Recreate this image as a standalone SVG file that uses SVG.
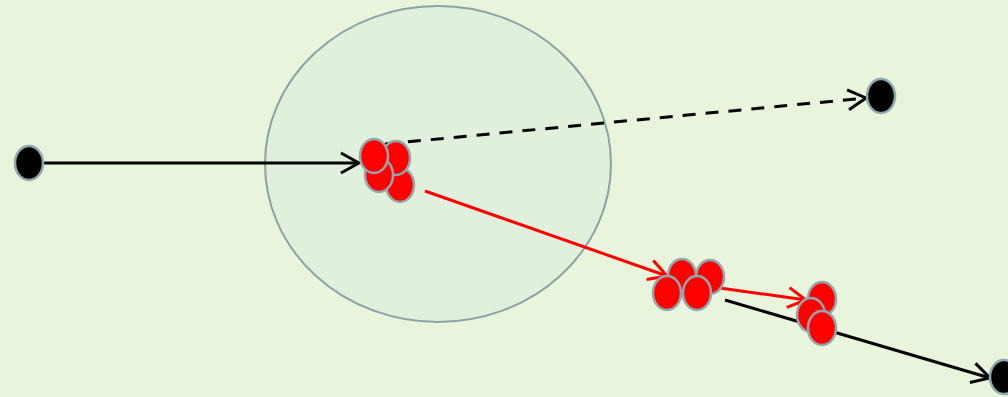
<svg xmlns="http://www.w3.org/2000/svg" width="1008" height="397" viewBox="0 0 1008 397">
<style>
.bg{fill:#E8F4DB}
.zone{fill:#E1F0DD;stroke:#8CA3A5;stroke-width:2}
.blk{fill:#000;stroke:#8FA8AC;stroke-width:2.5}
.red{fill:#FF0000;stroke:#8FA8AC;stroke-width:2.5}
.cb{stroke:#000;stroke-width:3;fill:none}
.cr{stroke:#FF0000;stroke-width:3;fill:none}
</style>
<defs>
<marker id="ab" viewBox="0 0 22 24" refX="20" refY="12" markerWidth="22" markerHeight="24" markerUnits="userSpaceOnUse" orient="auto">
<path d="M2,2 L20,12 L2,22" fill="none" stroke="#000" stroke-width="3"/>
</marker>
<marker id="ar" viewBox="0 0 22 24" refX="20" refY="12" markerWidth="22" markerHeight="24" markerUnits="userSpaceOnUse" orient="auto">
<path d="M2,2 L20,12 L2,22" fill="none" stroke="#FF0000" stroke-width="3"/>
</marker>
</defs>
<rect class="bg" x="0" y="0" width="1008" height="397"/>
<ellipse id="zone" class="zone" cx="438" cy="164" rx="173" ry="158"/>
<g id="connectors">
<line class="cb" x1="44" y1="163" x2="359" y2="163" marker-end="url(#ab)"/>
<line class="cb" x1="385" y1="144" x2="866" y2="98" stroke-dasharray="13,10" marker-end="url(#ab)"/>
<line class="cr" x1="425" y1="191" x2="667" y2="276" marker-end="url(#ar)"/>
<line class="cr" x1="720" y1="288" x2="806" y2="300" marker-end="url(#ar)"/>
<line class="cb" x1="725" y1="300" x2="990" y2="378" marker-end="url(#ab)"/>
</g>
<g id="source"><ellipse class="blk" cx="29" cy="163" rx="14" ry="17"/></g>
<g id="target-top"><ellipse class="blk" cx="881" cy="96" rx="14" ry="17"/></g>
<g id="target-bottom"><ellipse class="blk" cx="1004" cy="377" rx="14" ry="17"/></g>
<g id="cluster1">
<ellipse class="red" cx="400" cy="185" rx="14" ry="17"/>
<ellipse class="red" cx="396" cy="158" rx="14" ry="17"/>
<ellipse class="red" cx="379" cy="175" rx="14" ry="17"/>
<ellipse class="red" cx="374" cy="156" rx="14" ry="17"/>
</g>
<g id="cluster2">
<ellipse class="red" cx="710" cy="277" rx="14" ry="17"/>
<ellipse class="red" cx="682" cy="276" rx="14" ry="17"/>
<ellipse class="red" cx="667" cy="293" rx="14" ry="17"/>
<ellipse class="red" cx="697" cy="293" rx="14" ry="17"/>
</g>
<g id="cluster3">
<ellipse class="red" cx="822" cy="299" rx="14" ry="17"/>
<ellipse class="red" cx="811" cy="315" rx="14" ry="17"/>
<ellipse class="red" cx="822" cy="328" rx="14" ry="17"/>
</g>
</svg>
